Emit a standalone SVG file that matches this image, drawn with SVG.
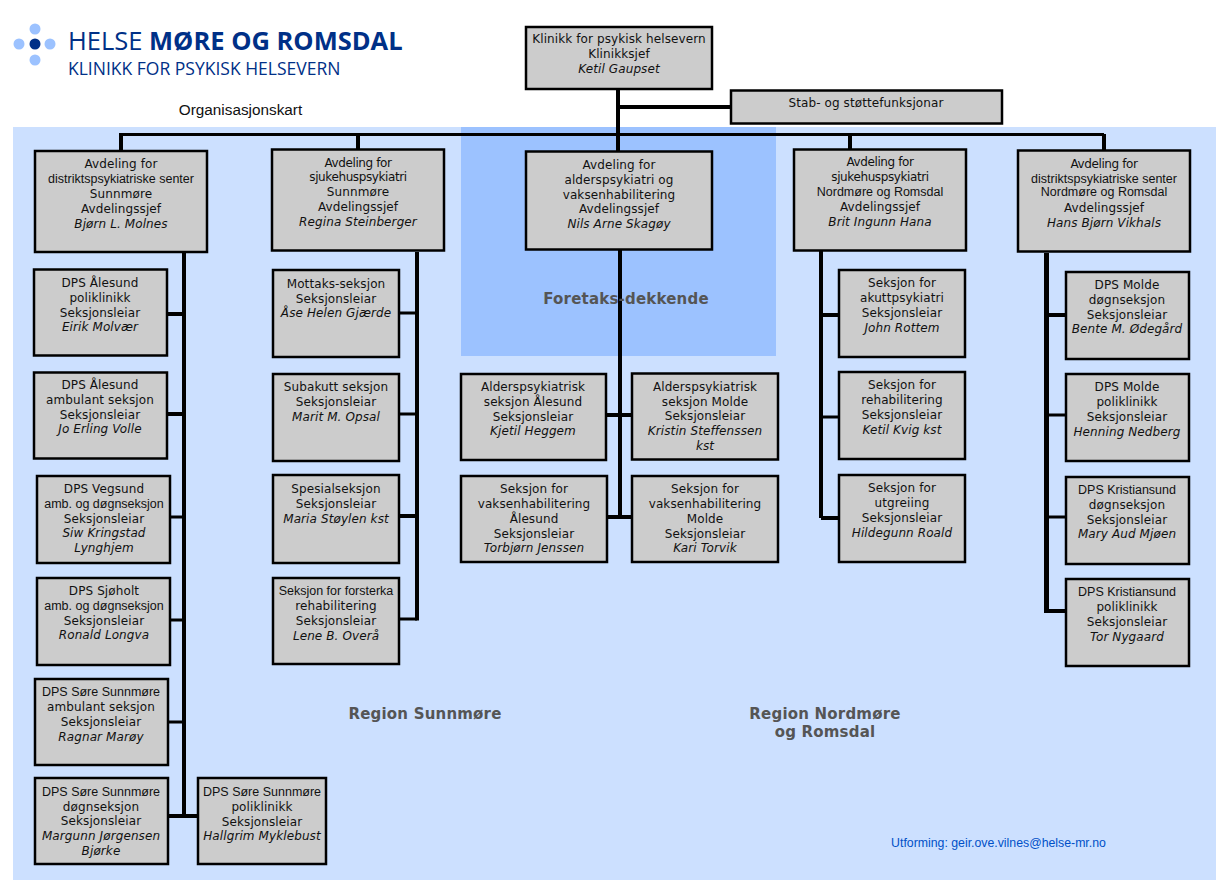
<svg xmlns="http://www.w3.org/2000/svg" width="1216" height="886" viewBox="0 0 1216 886">
<style>
.box{fill:#cccccc;stroke:#000;stroke-width:2.5}
text{font-family:"DejaVu Sans",Verdana,sans-serif;font-size:12px;fill:#111;text-anchor:middle;letter-spacing:.1px}
.i{font-style:italic}
.c{font-family:"Liberation Sans",Arial,sans-serif;font-size:12.5px;letter-spacing:0}
.n{letter-spacing:-.4px}
.region{font-weight:bold;font-size:15px;fill:#555;letter-spacing:.2px}
#connectors path{fill:none;stroke:#000;stroke-width:3}
#connectors path.h{stroke-width:4}
#connectors path.v{stroke-width:5}
</style>
<rect width="1216" height="886" fill="#fff"/>
<rect x="13" y="127" width="1203" height="753" fill="#cce0ff"/>
<rect x="461" y="127" width="315" height="229" fill="#9cc2ff"/>
<g id="logo">
<circle cx="35" cy="29" r="5.500" fill="#9cc2ff"/><circle cx="19" cy="44" r="5.500" fill="#9cc2ff"/><circle cx="50" cy="44" r="5.500" fill="#9cc2ff"/><circle cx="35" cy="60" r="5.500" fill="#9cc2ff"/><circle cx="35" cy="44" r="5.500" fill="#003087"/>
<text x="68" y="50" style="font-family:'Open Sans',sans-serif;font-size:25.500px;fill:#003087;text-anchor:start;letter-spacing:0">HELSE <tspan font-weight="bold">MØRE OG ROMSDAL</tspan></text>
<text x="68" y="75" style="font-family:'Open Sans',sans-serif;font-size:17.500px;fill:#003087;text-anchor:start;letter-spacing:0">KLINIKK FOR PSYKISK HELSEVERN</text>
</g>
<text x="240.500" y="115" style="font-family:'Liberation Sans',sans-serif;font-size:15.300px;letter-spacing:0">Organisasjonskart</text>
<g id="connectors">
<path d="M120 134.500H1104"/>
<path class="h" d="M618 107H730M121 133V151M358 134V150M618 90V151M850 134V149M1104 134V150"/>
<path class="h" d="M184 252V816M168 314H184M168 414H184M168 816H198"/>
<path d="M168 517H184M168 620H184M168 722H184"/>
<path class="h" d="M417 252V620.500"/>
<path d="M399 313H417M399 414H417M399 619H417"/>
<path class="h" d="M399 516H417"/>
<path class="h" d="M620 250V517M607 415H632M607 517H632"/>
<path class="h" d="M821 251V518M821 315H838M821 518H838"/>
<path d="M821 417H838"/>
<path class="v" d="M1046.500 253V613"/>
<path class="h" d="M1046.500 315H1066M1044 611H1066"/>
<path d="M1046.500 415H1066M1046.500 517H1066"/>
</g>
<g id="klinikk"><rect class="box" x="526" y="27" width="186" height="62"/><text x="619" y="43">Klinikk for psykisk helsevern</text><text x="619" y="58">Klinikksjef</text><text x="619" y="73" class="i">Ketil Gaupset</text></g>
<g id="stab"><rect class="box" x="731" y="90.500" width="271" height="33"/><text x="866" y="107">Stab- og støttefunksjonar</text></g>
<g id="avd-dps-sunnmore"><rect class="box" x="35" y="151" width="172" height="101"/><text x="121" y="168">Avdeling  for</text><text x="121" y="183" class="c">distriktspsykiatriske senter</text><text x="121" y="198">Sunnmøre</text><text x="121" y="213">Avdelingssjef</text><text x="121" y="228" class="i">Bjørn L. Molnes</text></g>
<g id="avd-sjukehus-sunnmore"><rect class="box" x="272" y="149.500" width="172" height="101"/><text x="358" y="167" class="n">Avdeling for</text><text x="358" y="181" class="n">sjukehuspsykiatri</text><text x="358" y="196">Sunnmøre</text><text x="358" y="211">Avdelingssjef</text><text x="358" y="226" class="i">Regina Steinberger</text></g>
<g id="avd-alders"><rect class="box" x="526" y="151.500" width="186" height="98"/><text x="619" y="169">Avdeling for</text><text x="619" y="184">alderspsykiatri og</text><text x="619" y="199">vaksenhabilitering</text><text x="619" y="213">Avdelingssjef</text><text x="619" y="228" class="i">Nils Arne Skagøy</text></g>
<g id="avd-sjukehus-nordmore"><rect class="box" x="794" y="149.500" width="172" height="101"/><text x="880" y="166" class="n">Avdeling for</text><text x="880" y="181" class="n">sjukehuspsykiatri</text><text x="880" y="196" class="c">Nordmøre og Romsdal</text><text x="880" y="211">Avdelingssjef</text><text x="880" y="226" class="i">Brit Ingunn Hana</text></g>
<g id="avd-dps-nordmore"><rect class="box" x="1018" y="150.500" width="172" height="101"/><text x="1104" y="168" class="n">Avdeling for</text><text x="1104" y="183" class="c">distriktspsykiatriske senter</text><text x="1104" y="196" class="c">Nordmøre og Romsdal</text><text x="1104" y="212">Avdelingssjef</text><text x="1104" y="227" class="i">Hans Bjørn Vikhals</text></g>
<g id="s-1"><rect class="box" x="34" y="269.500" width="133" height="86"/><text x="100" y="287">DPS Ålesund</text><text x="100" y="302">poliklinikk</text><text x="100" y="317">Seksjonsleiar</text><text x="100" y="331" class="i">Eirik Molvær</text></g>
<g id="s-2"><rect class="box" x="34" y="372.500" width="133" height="86"/><text x="100" y="389">DPS Ålesund</text><text x="100" y="404">ambulant seksjon</text><text x="100" y="419">Seksjonsleiar</text><text x="100" y="433" class="i">Jo Erling Volle</text></g>
<g id="s-3"><rect class="box" x="37" y="476" width="133" height="87"/><text x="104" y="493">DPS Vegsund</text><text x="104" y="508" class="c">amb. og døgnseksjon</text><text x="104" y="523">Seksjonsleiar</text><text x="104" y="537" class="i">Siw Kringstad</text><text x="104" y="552" class="i">Lynghjem</text></g>
<g id="s-4"><rect class="box" x="37" y="578" width="133" height="87"/><text x="104" y="595">DPS Sjøholt</text><text x="104" y="610" class="c">amb. og døgnseksjon</text><text x="104" y="625">Seksjonsleiar</text><text x="104" y="639" class="i">Ronald Longva</text></g>
<g id="s-5"><rect class="box" x="35" y="679" width="133" height="86"/><text x="101" y="696" class="c">DPS Søre Sunnmøre</text><text x="101" y="711">ambulant seksjon</text><text x="101" y="726">Seksjonsleiar</text><text x="101" y="741" class="i">Ragnar Marøy</text></g>
<g id="s-6"><rect class="box" x="35" y="778" width="133" height="86"/><text x="101" y="796" class="c">DPS Søre Sunnmøre</text><text x="101" y="811">døgnseksjon</text><text x="101" y="825">Seksjonsleiar</text><text x="101" y="840" class="i">Margunn Jørgensen</text><text x="101" y="855" class="i">Bjørke</text></g>
<g id="s-7"><rect class="box" x="198" y="778" width="128" height="86"/><text x="262" y="796" class="c">DPS Søre Sunnmøre</text><text x="262" y="811">poliklinikk</text><text x="262" y="826">Seksjonsleiar</text><text x="262" y="840" class="i">Hallgrim Myklebust</text></g>
<g id="s-8"><rect class="box" x="273" y="270" width="126" height="87"/><text x="336" y="288">Mottaks-seksjon</text><text x="336" y="303">Seksjonsleiar</text><text x="336" y="317" class="i">Åse Helen Gjærde</text></g>
<g id="s-9"><rect class="box" x="273" y="374" width="126" height="87"/><text x="336" y="391">Subakutt seksjon</text><text x="336" y="406">Seksjonsleiar</text><text x="336" y="421" class="i">Marit M. Opsal</text></g>
<g id="s-10"><rect class="box" x="273" y="475" width="126" height="88"/><text x="336" y="493">Spesialseksjon</text><text x="336" y="508">Seksjonsleiar</text><text x="336" y="523" class="i">Maria Støylen kst</text></g>
<g id="s-11"><rect class="box" x="273" y="578" width="126" height="86"/><text x="336" y="595" class="c">Seksjon for forsterka</text><text x="336" y="610">rehabilitering</text><text x="336" y="625">Seksjonsleiar</text><text x="336" y="640" class="i">Lene B. Overå</text></g>
<g id="s-12"><rect class="box" x="461" y="374" width="145" height="86"/><text x="533" y="391">Alderspsykiatrisk</text><text x="533" y="406">seksjon Ålesund</text><text x="533" y="421">Seksjonsleiar</text><text x="533" y="435" class="i">Kjetil Heggem</text></g>
<g id="s-13"><rect class="box" x="632" y="373.500" width="146" height="86"/><text x="705" y="391">Alderspsykiatrisk</text><text x="705" y="406">seksjon Molde</text><text x="705" y="420">Seksjonsleiar</text><text x="705" y="435" class="i">Kristin Steffenssen</text><text x="705" y="450" class="i">kst</text></g>
<g id="s-14"><rect class="box" x="461" y="476" width="146" height="86"/><text x="534" y="493">Seksjon for</text><text x="534" y="508">vaksenhabilitering</text><text x="534" y="523">Ålesund</text><text x="534" y="538">Seksjonsleiar</text><text x="534" y="552" class="i">Torbjørn Jenssen</text></g>
<g id="s-15"><rect class="box" x="632" y="476" width="146" height="86"/><text x="705" y="493">Seksjon for</text><text x="705" y="508">vaksenhabilitering</text><text x="705" y="523">Molde</text><text x="705" y="538">Seksjonsleiar</text><text x="705" y="552" class="i">Kari Torvik</text></g>
<g id="s-16"><rect class="box" x="839" y="270" width="126" height="87"/><text x="902" y="287">Seksjon for</text><text x="902" y="302">akuttpsykiatri</text><text x="902" y="317">Seksjonsleiar</text><text x="902" y="332" class="i">John Rottem</text></g>
<g id="s-17"><rect class="box" x="839" y="372" width="126" height="87"/><text x="902" y="389">Seksjon for</text><text x="902" y="404">rehabilitering</text><text x="902" y="419">Seksjonsleiar</text><text x="902" y="434" class="i">Ketil Kvig kst</text></g>
<g id="s-18"><rect class="box" x="839" y="475" width="126" height="87"/><text x="902" y="492">Seksjon for</text><text x="902" y="507">utgreiing</text><text x="902" y="522">Seksjonsleiar</text><text x="902" y="537" class="i">Hildegunn Roald</text></g>
<g id="s-19"><rect class="box" x="1066" y="272" width="123" height="87"/><text x="1127" y="289">DPS Molde</text><text x="1127" y="304">døgnseksjon</text><text x="1127" y="319">Seksjonsleiar</text><text x="1127" y="333" class="i">Bente M. Ødegård</text></g>
<g id="s-20"><rect class="box" x="1066" y="374" width="123" height="87"/><text x="1127" y="391">DPS Molde</text><text x="1127" y="406">poliklinikk</text><text x="1127" y="421">Seksjonsleiar</text><text x="1127" y="436" class="i">Henning Nedberg</text></g>
<g id="s-21"><rect class="box" x="1066" y="477" width="123" height="87"/><text x="1127" y="494" class="c">DPS Kristiansund</text><text x="1127" y="509">døgnseksjon</text><text x="1127" y="524">Seksjonsleiar</text><text x="1127" y="538" class="i">Mary Aud Mjøen</text></g>
<g id="s-22"><rect class="box" x="1066" y="579" width="123" height="87"/><text x="1127" y="596" class="c">DPS Kristiansund</text><text x="1127" y="611">poliklinikk</text><text x="1127" y="626">Seksjonsleiar</text><text x="1127" y="641" class="i">Tor Nygaard</text></g>
<text class="region" x="626" y="304">Foretaks-dekkende</text>
<text class="region" x="425" y="719">Region Sunnmøre</text>
<text class="region" x="825" y="719">Region Nordmøre</text>
<text class="region" x="825" y="737">og Romsdal</text>
<text x="998.500" y="847" style="font-family:'Liberation Sans',sans-serif;font-size:12.300px;fill:#0050c8;letter-spacing:0">Utforming: geir.ove.vilnes@helse-mr.no</text>
</svg>
